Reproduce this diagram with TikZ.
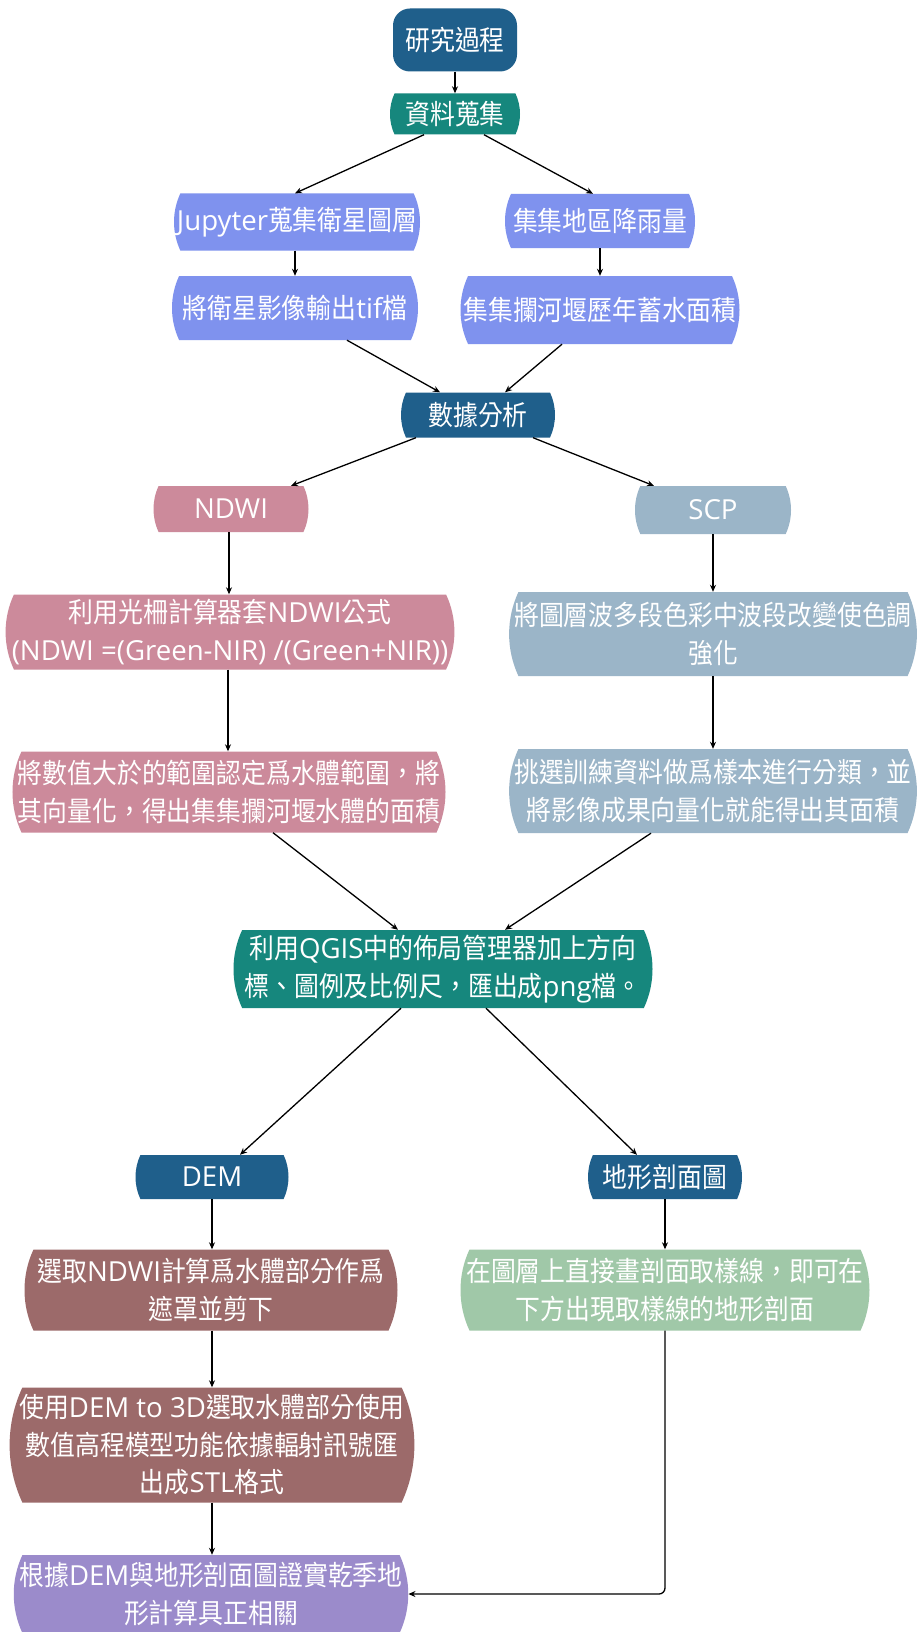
\documentclass[tikz,border=0pt]{standalone}
\usepackage{fontspec}
\setmainfont{Noto Sans CJK TC}[FakeStretch=0.9]
\newfontfamily\latf{Open Sans}
\newcommand\La[1]{{\latf #1}}
\usetikzlibrary{arrows.meta,calc,shapes.misc}
\definecolor{cdark}{HTML}{1F5F8B}
\definecolor{cteal}{HTML}{16877D}
\definecolor{cperi}{HTML}{7F92EE}
\definecolor{cpink}{HTML}{CC8A9B}
\definecolor{cgrey}{HTML}{9BB5C8}
\definecolor{cbrown}{HTML}{9C6A6A}
\definecolor{cgreen}{HTML}{A0C8A8}
\definecolor{clav}{HTML}{9B8BCB}
\tikzset{
  box/.style={rounded rectangle, rounded rectangle arc length=50, inner sep=0pt, text=white, align=center,
    font=\fontsize{27.6}{37.5}\selectfont},
  arr/.style={-{Stealth[length=7pt,width=6pt]}, line width=1.3pt, black},
}
\begin{document}
\begin{tikzpicture}[x=1pt,y=-1pt]
\useasboundingbox[fill=white] (0,0) rectangle (916,1632);
\node[box, rectangle, rounded corners=17pt, fill=cdark, minimum width=124pt, minimum height=63pt] (n1) at (455,40) {研究過程};
\node[box, fill=cteal, minimum width=130pt, minimum height=41pt] (n2) at (455,114) {資料蒐集};
\node[box, fill=cperi, minimum width=246pt, minimum height=57pt] (n3) at (297,222) {\La{Jupyter}蒐集衛星圖層};
\node[box, fill=cperi, minimum width=190pt, minimum height=54pt] (n4) at (600,221) {集集地區降雨量};
\node[box, fill=cperi, minimum width=246pt, minimum height=64pt] (n5) at (295,308) {將衛星影像輸出\La{tif}檔};
\node[box, fill=cperi, minimum width=279pt, minimum height=68pt] (n6) at (600,310) {集集攔河堰歷年蓄水面積};
\node[box, fill=cdark, minimum width=154pt, minimum height=45pt] (n7) at (478,415) {數據分析};
\node[box, fill=cpink, minimum width=155pt, minimum height=46pt] (n8) at (231,509) {\La{NDWI}};
\node[box, fill=cgrey, minimum width=156pt, minimum height=48pt] (n9) at (713,510) {\La{SCP}};
\node[box, fill=cpink, minimum width=443pt, minimum height=75pt] (n10) at (230,632) {利用光柵計算器套\La{NDWI}公式\\\La{(NDWI =(Green-NIR) /(Green+NIR))}};
\node[box, fill=cgrey, minimum width=407pt, minimum height=84pt] (n11) at (713,634) {將圖層波多段色彩中波段改變使色調\\強化};
\node[box, fill=cpink, minimum width=428pt, minimum height=81pt] (n12) at (229,792) {將數值大於的範圍認定爲水體範圍，將\\其向量化，得出集集攔河堰水體的面積};
\node[box, fill=cgrey, minimum width=407pt, minimum height=84pt] (n13) at (713,791) {挑選訓練資料做爲樣本進行分類，並\\將影像成果向量化就能得出其面積};
\node[box, fill=cteal, minimum width=419pt, minimum height=78pt] (n14) at (443,969) {利用\La{QGIS}中的佈局管理器加上方向\\標、圖例及比例尺，匯出成\La{png}檔。};
\node[box, fill=cdark, minimum width=153pt, minimum height=44pt] (n15) at (212,1177) {\La{DEM}};
\node[box, fill=cdark, minimum width=154pt, minimum height=44pt] (n16) at (665,1177) {地形剖面圖};
\node[box, fill=cbrown, minimum width=373pt, minimum height=81pt] (n17) at (211,1290) {選取\La{NDWI}計算爲水體部分作爲\\遮罩並剪下};
\node[box, fill=cgreen, minimum width=409pt, minimum height=81pt] (n18) at (665,1290) {在圖層上直接畫剖面取樣線，即可在\\下方出現取樣線的地形剖面};
\node[box, fill=cbrown, minimum width=387pt, minimum height=115pt] (n19) at (212,1445) {使用\La{DEM to 3D}選取水體部分使用\\數值高程模型功能依據輻射訊號匯\\出成\La{STL}格式};
\node[box, fill=clav, minimum width=390pt, minimum height=78pt] (n20) at (211,1594) {根據\La{DEM}與地形剖面圖證實乾季地\\形計算具正相關};

\draw[arr] (n1.south) -- (n2.north);
\draw[arr] ([xshift=-31pt]n2.south) -- ([xshift=-2pt]n3.north);
\draw[arr] ([xshift=29pt]n2.south) -- ([xshift=-7pt]n4.north);
\draw[arr] ([xshift=-2pt]n3.south) -- ([xshift=-2pt]n3.south |- n5.north);
\draw[arr] (n4.south) -- (n4.south |- n6.north);
\draw[arr] ([xshift=52pt]n5.south) -- ([xshift=-38pt]n7.north);
\draw[arr] ([xshift=-38pt]n6.south) -- ([xshift=27pt]n7.north);
\draw[arr] ([xshift=-62pt]n7.south) -- ([xshift=60pt]n8.north);
\draw[arr] ([xshift=55pt]n7.south) -- ([xshift=-59pt]n9.north);
\draw[arr] ([xshift=-2pt]n8.south) -- ([xshift=-2pt]n8.south |- n10.north);
\draw[arr] (n9.south) -- (n9.south |- n11.north);
\draw[arr] ([xshift=-2pt]n10.south) -- ([xshift=-2pt]n10.south |- n12.north);
\draw[arr] (n11.south) -- (n11.south |- n13.north);
\draw[arr] ([xshift=44pt]n12.south) -- ([xshift=-45pt]n14.north);
\draw[arr] ([xshift=-62pt]n13.south) -- ([xshift=62pt]n14.north);
\draw[arr] ([xshift=-42pt]n14.south) -- ([xshift=28pt]n15.north);
\draw[arr] ([xshift=43pt]n14.south) -- ([xshift=-28pt]n16.north);
\draw[arr] (n15.south) -- (n15.south |- n17.north);
\draw[arr] (n16.south) -- (n16.south |- n18.north);
\draw[arr] ([xshift=1pt]n17.south) -- ([xshift=1pt]n17.south |- n19.north);
\draw[arr] (n19.south) -- (n19.south |- n20.north);
\draw[arr, rounded corners=6pt] (n18.south) |- (n20.east);
\end{tikzpicture}
\end{document}
